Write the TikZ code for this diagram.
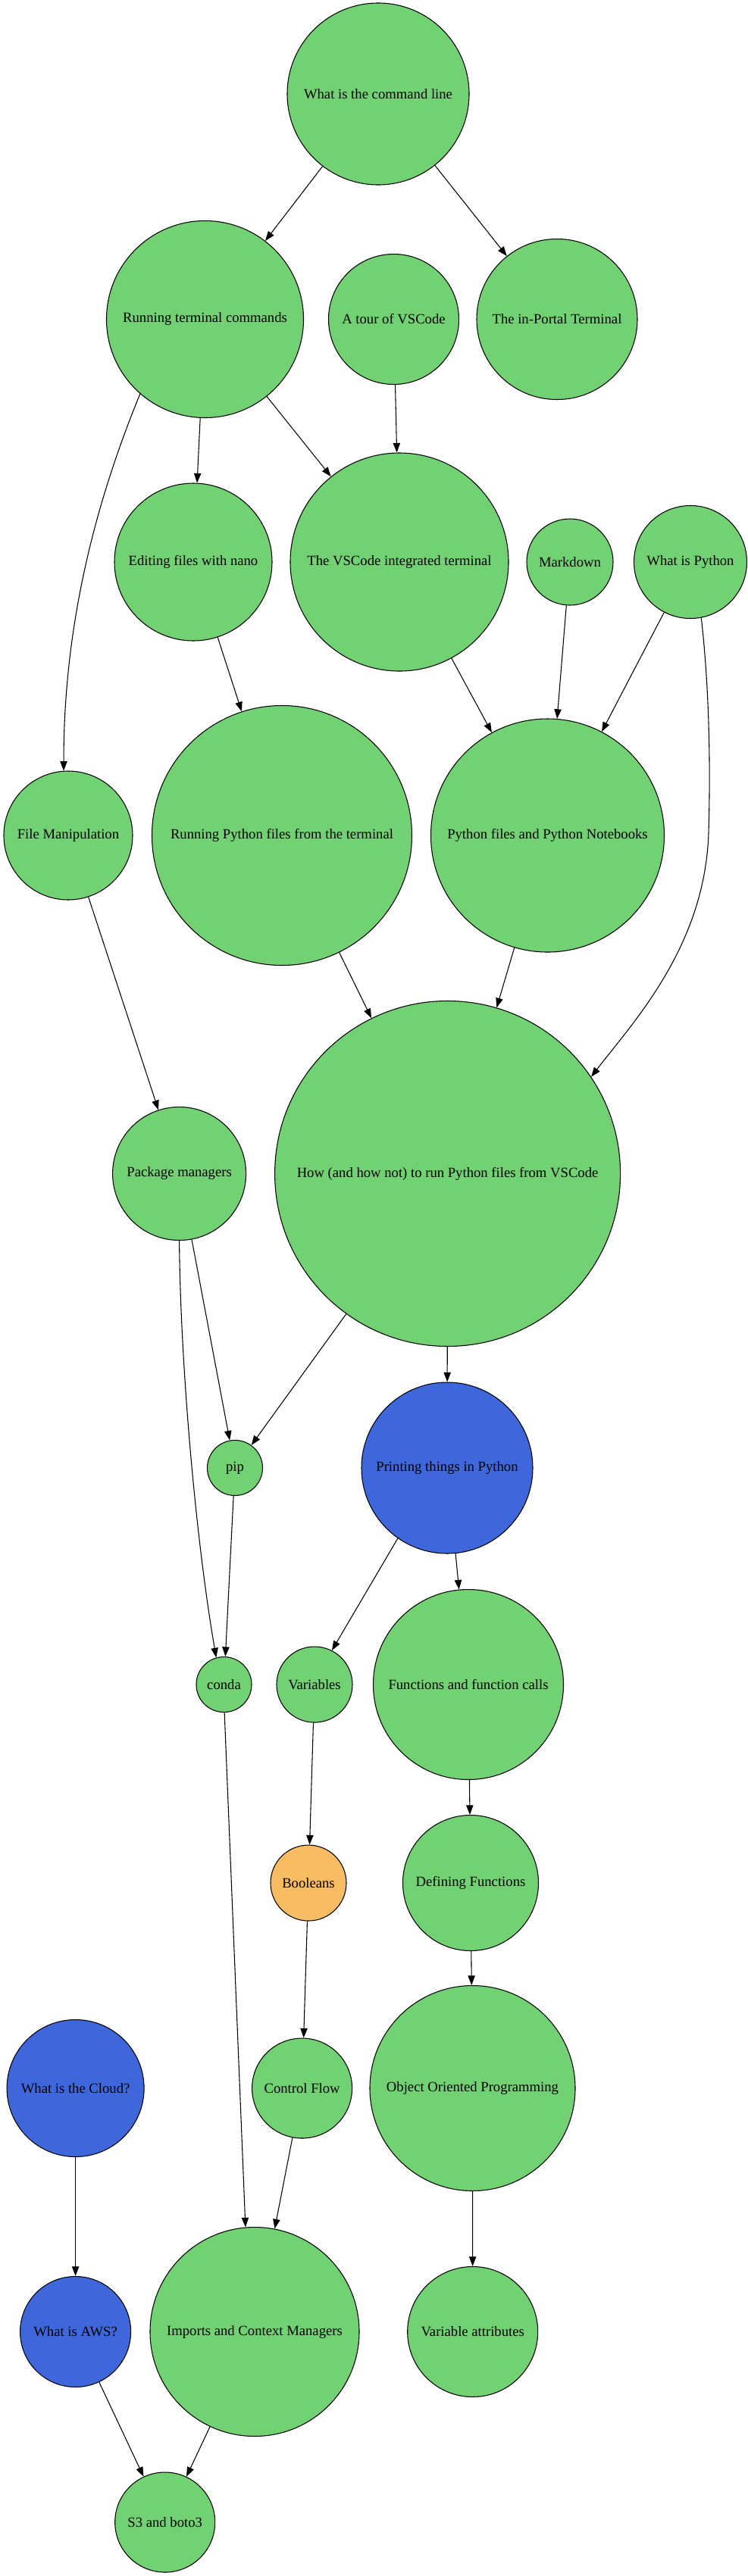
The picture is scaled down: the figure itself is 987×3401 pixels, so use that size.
\documentclass[tikz,border=0pt]{standalone}
\usepackage{fontspec}
\setmainfont{Liberation Serif}
\usetikzlibrary{arrows.meta}
\definecolor{tgreen}{HTML}{72D172}
\definecolor{tblue}{HTML}{3E67DC}
\definecolor{torange}{HTML}{F9BC63}
\tikzset{
  topic/.style={circle,draw=black,line width=0.8pt,fill=tgreen,inner sep=0pt,
    minimum size=#1*1.5pt,font=\fontsize{14pt}{16pt}\selectfont,text=black},
  topicblue/.style={topic=#1,fill=tblue},
  topicorange/.style={topic=#1,fill=torange},
  edge/.style={-{Triangle[length=9.5pt,width=7pt]},line width=0.8pt,draw=black}
}
\begin{document}
\begin{tikzpicture}[x=0.75pt,y=-0.75pt]
\useasboundingbox (0,0) rectangle (987,3401);
% nodes
\node[topic=120] (cmd) at (499,124) {What is the command line};
\node[topic=130] (run) at (270.5,421.5) {Running terminal commands};
\node[topic=86] (tour) at (519.5,421.5) {A tour of VSCode};
\node[topic=106] (portal) at (735,421.5) {The in-Portal Terminal};
\node[topic=104] (nano) at (255,742) {Editing files with nano};
\node[topic=144] (vsterm) at (527,742) {The VSCode integrated terminal};
\node[topic=57] (md) at (752,742) {Markdown};
\node[topic=74.5] (wip) at (911,742) {What is Python};
\node[topic=85] (fm) at (90,1103) {File Manipulation};
\node[topic=171.5] (rpf) at (372,1103) {Running Python files from the terminal};
\node[topic=154] (pfn) at (722.5,1103) {Python files and Python Notebooks};
\node[topic=88] (pm) at (236.6,1549.5) {Package managers};
\node[topic=228] (how) at (590.6,1549.5) {How (and how not) to run Python files from VSCode};
\node[topic=36.5] (pip) at (310,1938) {pip};
\node[topicblue=113] (print) at (590,1938) {Printing things in Python};
\node[topic=36.5] (conda) at (295.5,2224) {conda};
\node[topic=50] (var) at (415,2224) {Variables};
\node[topic=125.5] (func) at (618,2224) {Functions and function calls};
\node[topicorange=50] (bool) at (407,2486) {Booleans};
\node[topic=89.5] (def) at (621,2486) {Defining Functions};
\node[topicblue=90.5] (cloud) at (99.6,2757) {What is the Cloud?};
\node[topic=66] (cf) at (398.6,2757) {Control Flow};
\node[topic=135.5] (oop) at (623.5,2757) {Object Oriented Programming};
\node[topicblue=73] (aws) at (99.6,3078.5) {What is AWS?};
\node[topic=138] (imp) at (336,3078.5) {Imports and Context Managers};
\node[topic=86] (va) at (623.7,3078.5) {Variable attributes};
\node[topic=66] (s3) at (217.7,3330) {S3 and boto3};
% edges
\draw[edge] (cmd) -- (run);
\draw[edge] (cmd) -- (portal);
\draw[edge] (run) -- (nano);
\draw[edge] (run) -- (vsterm);
\draw[edge] (run.229) .. controls (115,690) and (84,850) .. (fm.94);
\draw[edge] (tour) -- (vsterm);
\draw[edge] (nano) -- (rpf);
\draw[edge] (vsterm) -- (pfn);
\draw[edge] (md) -- (pfn);
\draw[edge] (wip) -- (pfn);
\draw[edge] (wip.281) .. controls (935,900) and (938,1000) .. (935,1100)
   .. controls (930,1250) and (835,1350) .. (how.34);
\draw[edge] (rpf) -- (how);
\draw[edge] (pfn) -- (how);
\draw[edge] (fm) -- (pm);
\draw[edge] (pm) -- (pip);
\draw[edge] (pm.270) .. controls (238,1800) and (258,2030) .. (conda.106);
\draw[edge] (how) -- (pip);
\draw[edge] (how) -- (print);
\draw[edge] (pip) -- (conda);
\draw[edge] (print.235) -- (var.63);
\draw[edge] (print) -- (func);
\draw[edge] (var) -- (bool);
\draw[edge] (func) -- (def);
\draw[edge] (bool) -- (cf);
\draw[edge] (def) -- (oop);
\draw[edge] (conda.-89) -- (imp.95);
\draw[edge] (cf) -- (imp);
\draw[edge] (oop) -- (va);
\draw[edge] (cloud) -- (aws);
\draw[edge] (aws) -- (s3);
\draw[edge] (imp) -- (s3);
\end{tikzpicture}
\end{document}
